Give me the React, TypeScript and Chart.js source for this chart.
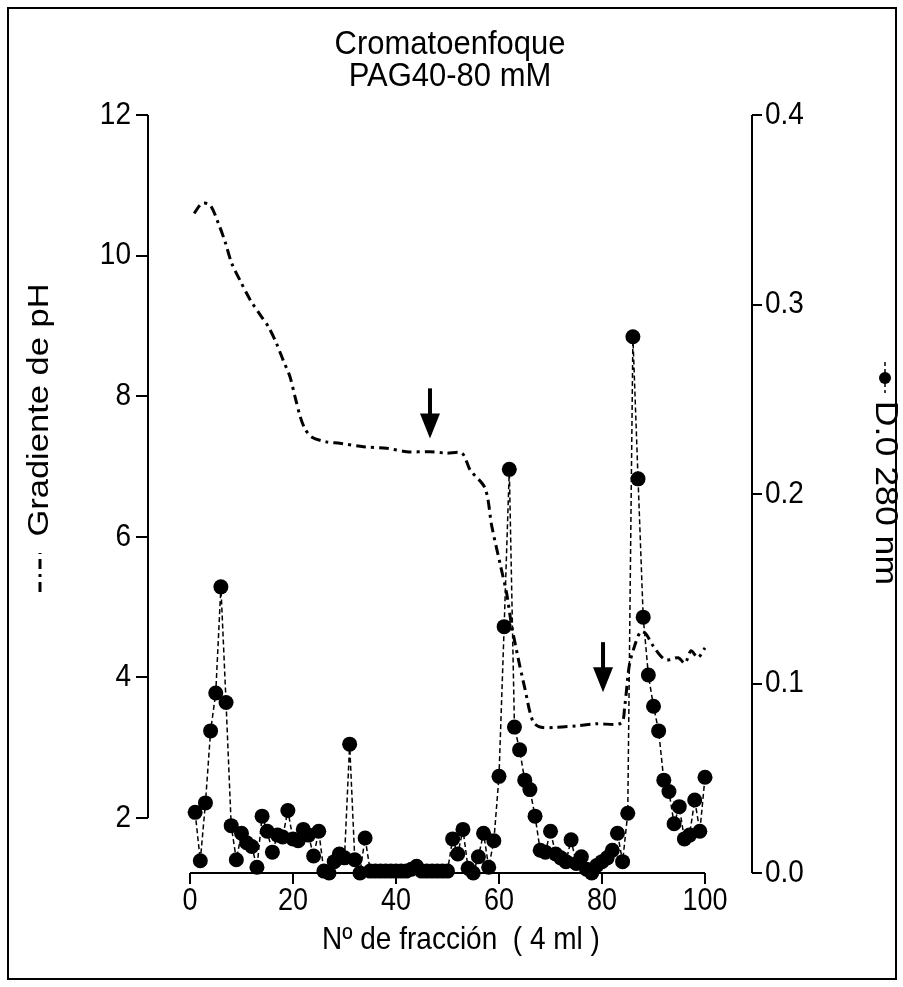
import React, { useEffect, useRef } from 'react';
import { Chart, registerables } from 'chart.js';

Chart.register(...registerables);

// ---------- data ----------
const fractions = [
  1, 2, 3, 4, 5, 6, 7, 8, 9, 10,
  11, 12, 13, 14, 15, 16, 17, 18, 19, 20,
  21, 22, 23, 24, 25, 26, 27, 28, 29, 30,
  31, 32, 33, 34, 35, 36, 37, 38, 39, 40,
  41, 42, 43, 44, 45, 46, 47, 48, 49, 50,
  51, 52, 53, 54, 55, 56, 57, 58, 59, 60,
  61, 62, 63, 64, 65, 66, 67, 68, 69, 70,
  71, 72, 73, 74, 75, 76, 77, 78, 79, 80,
  81, 82, 83, 84, 85, 86, 87, 88, 89, 90,
  91, 92, 93, 94, 95, 96, 97, 98, 99, 100,
];

const odValues = [
  0.032, 0.0065, 0.037, 0.075, 0.095, 0.151, 0.090, 0.025, 0.007, 0.021,
  0.016, 0.014, 0.003, 0.030, 0.022, 0.011, 0.020, 0.019, 0.033, 0.018,
  0.017, 0.023, 0.020, 0.009, 0.022, 0.001, 0.000, 0.006, 0.010, 0.008,
  0.068, 0.007, 0.000, 0.0185, 0.001, 0.001, 0.001, 0.001, 0.001, 0.001,
  0.001, 0.001, 0.002, 0.0035, 0.001, 0.001, 0.001, 0.001, 0.001, 0.001,
  0.018, 0.010, 0.023, 0.0025, 0.000, 0.0086, 0.021, 0.003, 0.017, 0.051,
  0.130, 0.213, 0.077, 0.065, 0.049, 0.044, 0.030, 0.012, 0.011, 0.022,
  0.010, 0.008, 0.006, 0.0175, 0.005, 0.0086, 0.002, 0.000, 0.004, 0.006,
  0.008, 0.012, 0.021, 0.006, 0.0315, 0.283, 0.208, 0.135, 0.1045, 0.088,
  0.075, 0.049, 0.043, 0.026, 0.035, 0.018, 0.020, 0.0385, 0.022, 0.0505,
];

const phFractions = [
  0.8, 2.3, 3.9, 5.5, 6.8, 8.1, 9.7, 11.7, 13.6, 15.2,
  16.8, 18.1, 19.4, 20.4, 21.4, 22.3, 23.6, 26.5, 29.1, 33.7,
  38.2, 42.1, 46.6, 49.8, 52.8, 54.4, 57.3, 58.6, 60.2, 61.5,
  62.4, 63.7, 65.0, 66.6, 68.2, 71.1, 75.0, 78.9, 83.7, 84.4,
  85.3, 86.3, 87.5, 88.5, 90.0, 92.3, 94.8, 96.1, 97.3, 98.6,
  100,
];

const phValues = [
  10.60, 10.74, 10.72, 10.46, 10.20, 9.89, 9.65, 9.37, 9.16, 8.99,
  8.75, 8.51, 8.28, 7.99, 7.71, 7.54, 7.42, 7.35, 7.33, 7.28,
  7.26, 7.21, 7.21, 7.19, 7.19, 6.95, 6.69, 6.15, 5.62, 5.19,
  4.76, 4.28, 3.85, 3.37, 3.29, 3.29, 3.31, 3.34, 3.35, 3.58,
  4.17, 4.44, 4.65, 4.62, 4.44, 4.25, 4.28, 4.20, 4.38, 4.28,
  4.42,
];

const xTicks = [0, 20, 40, 60, 80, 100];
const phTicks = [2, 4, 6, 8, 10, 12];
const odTicks = [0, 0.1, 0.2, 0.3, 0.4];

const arrowFractions = [46.6, 80.2];
const arrowTipPH = [7.40, 3.79];

const titleLines = ['Cromatoenfoque', 'PAG40-80 mM'];
const xTitle = 'Nº de fracción  ( 4 ml )';
const leftTitle = 'Gradiente de pH';
const rightTitle = 'D.0 280 nm';

// ---------- styling ----------
const FONT = '"Liberation Sans", Arial, Helvetica, sans-serif';
const PH_DASH = [10, 5, 3, 5];
const OD_DASH = [5, 3];
const STRETCH = 1.15;

function drawText(
  ctx: CanvasRenderingContext2D,
  text: string,
  x: number,
  y: number,
  size: number,
  align: CanvasTextAlign,
  rot: number,
  sx: number,
  sy: number,
) {
  ctx.save();
  ctx.translate(x, y);
  ctx.rotate(rot);
  ctx.scale(sx, sy);
  ctx.font = `${size}px ${FONT}`;
  ctx.textAlign = align;
  ctx.textBaseline = 'middle';
  ctx.fillText(text, 0, 0);
  ctx.restore();
}

const decorPlugin = {
  id: 'decor',
  afterDraw(chart: any) {
    const { ctx, scales } = chart;
    const x = scales.x, yL = scales.yL, yR = scales.yR;
    ctx.save();
    ctx.strokeStyle = '#000';
    ctx.fillStyle = '#000';

    // frame
    ctx.lineWidth = 2;
    ctx.strokeRect(8, 8, 888, 971);

    // axis lines
    ctx.lineWidth = 2;
    ctx.beginPath();
    const lx = yL.left + yL.width;
    ctx.moveTo(lx, yL.getPixelForValue(phTicks[0]));
    ctx.lineTo(lx, yL.getPixelForValue(phTicks[phTicks.length - 1]));
    const by = x.top;
    ctx.moveTo(x.getPixelForValue(xTicks[0]), by);
    ctx.lineTo(x.getPixelForValue(xTicks[xTicks.length - 1]), by);
    const rx = yR.left;
    ctx.moveTo(rx, yR.getPixelForValue(odTicks[0]));
    ctx.lineTo(rx, yR.getPixelForValue(odTicks[odTicks.length - 1]));
    ctx.stroke();

    // tick labels (positions from the library's scales)
    x.ticks.forEach((t: any) => {
      drawText(ctx, String(t.value), x.getPixelForValue(t.value), 901, 27, 'center', 0, 1, STRETCH);
    });
    yL.ticks.forEach((t: any) => {
      drawText(ctx, String(t.value), lx - 17, yL.getPixelForValue(t.value), 28, 'right', 0, 1, STRETCH);
    });
    yR.ticks.forEach((t: any) => {
      drawText(ctx, Number(t.value).toFixed(1), rx + 13, yR.getPixelForValue(t.value), 28, 'left', 0, 1, STRETCH);
    });

    // arrows
    for (let i = 0; i < arrowFractions.length; i++) {
      const ax = x.getPixelForValue(arrowFractions[i]);
      const ay = yL.getPixelForValue(arrowTipPH[i]);
      ctx.fillRect(ax - 2, ay - 50, 4, 28);
      ctx.beginPath();
      ctx.moveTo(ax - 10, ay - 25);
      ctx.lineTo(ax + 10, ay - 25);
      ctx.lineTo(ax, ay);
      ctx.closePath();
      ctx.fill();
    }

    // title
    drawText(ctx, titleLines[0], 450, 45, 31, 'center', 0, 1, 1.1);
    drawText(ctx, titleLines[1], 450, 77, 31, 'center', 0, 1, 1.1);

    // x title
    drawText(ctx, xTitle, 461, 940, 28, 'center', 0, 1, STRETCH);

    // left title + legend symbol
    drawText(ctx, leftTitle, 40, 410, 30, 'center', -Math.PI / 2, STRETCH, 1);
    ctx.save();
    ctx.lineWidth = 3;
    ctx.setLineDash(PH_DASH);
    ctx.beginPath();
    ctx.moveTo(40, 592);
    ctx.lineTo(40, 553);
    ctx.stroke();
    ctx.restore();

    // right title + legend symbol
    drawText(ctx, rightTitle, 885, 493, 31, 'center', Math.PI / 2, STRETCH, 1);
    ctx.save();
    ctx.lineWidth = 1.5;
    ctx.setLineDash([4, 3]);
    ctx.beginPath();
    ctx.moveTo(885, 362);
    ctx.lineTo(885, 393);
    ctx.stroke();
    ctx.setLineDash([]);
    ctx.beginPath();
    ctx.arc(885, 378, 6, 0, Math.PI * 2);
    ctx.fill();
    ctx.restore();

    ctx.restore();
  },
};

export default function App() {
  const ref = useRef<HTMLCanvasElement>(null);

  useEffect(() => {
    const canvas = ref.current;
    if (!canvas) return;
    const gridOpts = {
      display: true,
      drawOnChartArea: false,
      drawTicks: true,
      color: '#000',
      lineWidth: 2,
    };
    const hiddenTicks = { display: false, autoSkip: false };
    const chart = new Chart(canvas, {
      type: 'line',
      data: {
        datasets: [
          {
            label: 'D.0 280 nm',
            data: fractions.map((f, i) => ({ x: f, y: odValues[i] })),
            yAxisID: 'yR',
            borderColor: '#000',
            borderWidth: 1.5,
            borderDash: OD_DASH,
            pointRadius: 7.5,
            pointBackgroundColor: '#000',
            pointBorderWidth: 0,
            tension: 0,
            clip: false as any,
          },
          {
            label: 'Gradiente de pH',
            data: phFractions.map((f, i) => ({ x: f, y: phValues[i] })),
            yAxisID: 'yL',
            borderColor: '#000',
            borderWidth: 3,
            borderDash: PH_DASH,
            pointRadius: 0,
            tension: 0.3,
            clip: false as any,
          },
        ],
      },
      options: {
        responsive: false,
        animation: false,
        devicePixelRatio: 1,
        layout: { padding: { top: 115, left: 0, right: 0, bottom: 0 } },
        plugins: { legend: { display: false }, title: { display: false }, tooltip: { enabled: false } },
        scales: {
          x: {
            type: 'linear',
            position: 'bottom',
            min: -8.155,
            max: 109.126,
            afterBuildTicks: (s: any) => { s.ticks = xTicks.map((v) => ({ value: v })); },
            afterFit: (s: any) => { s.height = 114; },
            grid: { ...gridOpts, tickLength: 11 },
            border: { display: false },
            ticks: hiddenTicks,
          },
          yL: {
            type: 'linear',
            position: 'left',
            min: 1.2176,
            max: 12,
            afterBuildTicks: (s: any) => { s.ticks = phTicks.map((v) => ({ value: v })); },
            afterFit: (s: any) => { s.width = 148; },
            grid: { ...gridOpts, tickLength: 12 },
            border: { display: false },
            ticks: hiddenTicks,
          },
          yR: {
            type: 'linear',
            position: 'right',
            min: 0,
            max: 0.4,
            afterBuildTicks: (s: any) => { s.ticks = odTicks.map((v) => ({ value: v })); },
            afterFit: (s: any) => { s.width = 151; },
            grid: { ...gridOpts, tickLength: 10 },
            border: { display: false },
            ticks: hiddenTicks,
          },
        },
      },
      plugins: [decorPlugin],
    } as any);
    return () => chart.destroy();
  }, []);

  return (
    <canvas
      ref={ref}
      width={903}
      height={987}
      style={{ position: 'absolute', left: 0, top: 0, width: 903, height: 987, background: '#fff' }}
    />
  );
}
